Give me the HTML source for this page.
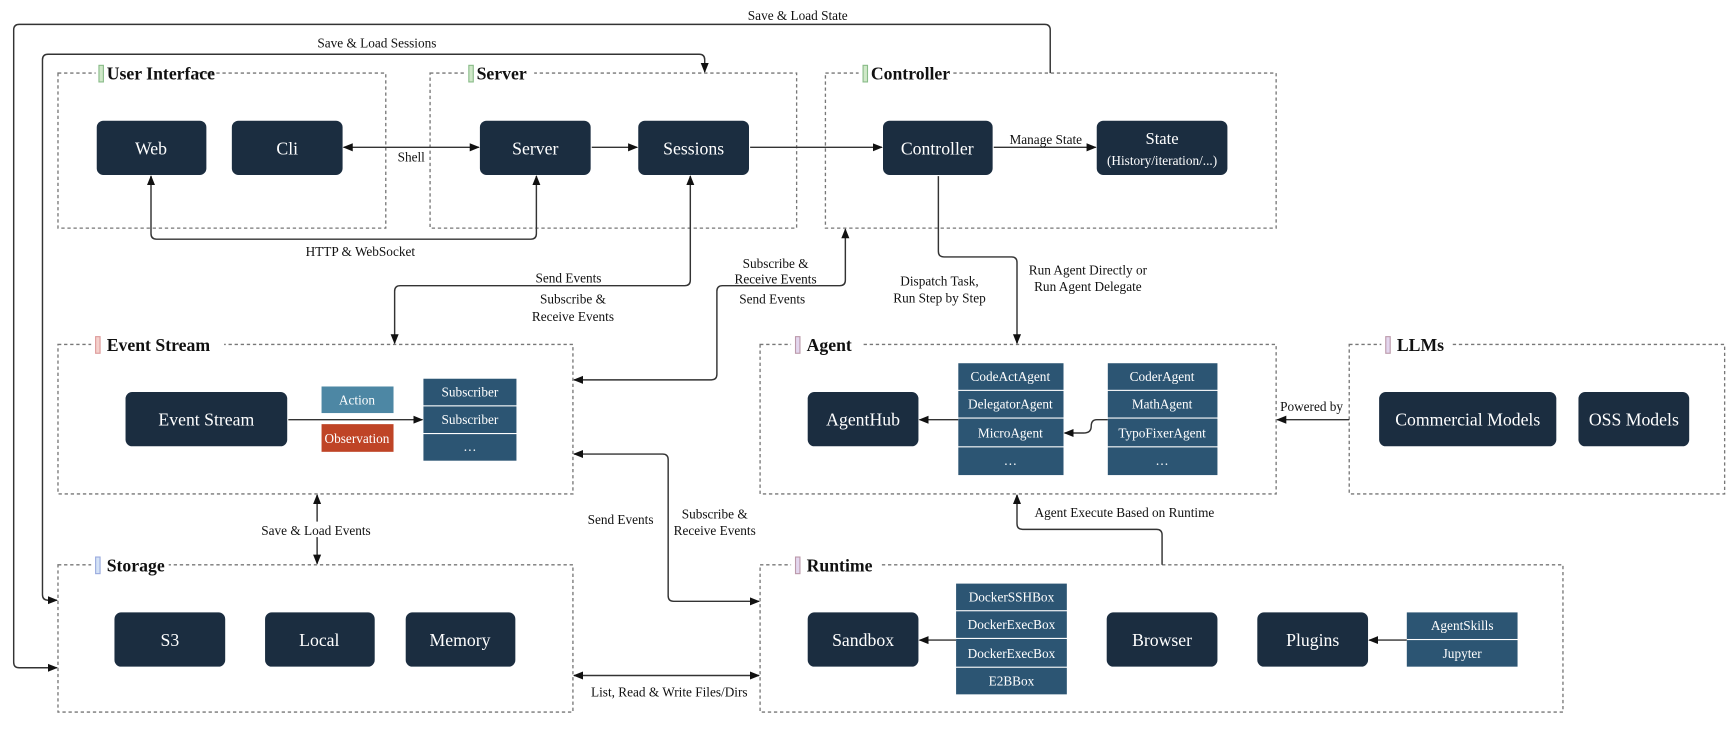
<!DOCTYPE html>
<html><head><meta charset="utf-8"><style>
html,body{margin:0;padding:0;background:#fff;}
svg{display:block;}
text{font-family:"Liberation Serif",serif;}
.g{fill:none;stroke:#777;stroke-width:1.2;stroke-dasharray:3,2.5;}
.n{fill:#1b2d40;}
.nt{fill:#fff;font-size:16px;text-anchor:middle;dominant-baseline:central;}
.lt{fill:#fff;font-size:12px;text-anchor:middle;dominant-baseline:central;}
.l{fill:none;stroke:#333;stroke-width:1.3;}
.lb{fill:#111;font-size:12px;text-anchor:middle;}
.gt{fill:#111;font-size:16px;font-weight:bold;}
.li{fill:#2c5573;}
</style></head><body>
<svg width="1735" height="732" viewBox="0 0 1566 661" xmlns="http://www.w3.org/2000/svg">
<defs><marker id="a" viewBox="0 0 10 10" refX="9" refY="5" markerWidth="7" markerHeight="7" orient="auto-start-reverse"><path d="M0,1 L10,5 L0,9 z" fill="#111"/></marker></defs>
<rect width="1566" height="661" fill="#fff"/>

<!-- groups -->
<rect class="g" x="52" y="66" width="296" height="140"/>
<rect class="g" x="388" y="66" width="331" height="140"/>
<rect class="g" x="745" y="66" width="407" height="140"/>
<rect class="g" x="52" y="311" width="465" height="135"/>
<rect class="g" x="686" y="311" width="466" height="135"/>
<rect class="g" x="1218" y="311" width="339" height="135"/>
<rect class="g" x="52" y="510" width="465" height="133"/>
<rect class="g" x="686" y="510" width="725" height="133"/>

<!-- group titles -->
<g>
<rect x="86" y="58" width="92" height="18" fill="#fff"/><rect x="89" y="59" width="4" height="15" fill="#cfe8c8" stroke="#8b8"/><text class="gt" x="96" y="72">User Interface</text>
<rect x="420" y="58" width="62" height="18" fill="#fff"/><rect x="423" y="59" width="4" height="15" fill="#cfe8c8" stroke="#8b8"/><text class="gt" x="430" y="72">Server</text>
<rect x="775" y="58" width="84" height="18" fill="#fff"/><rect x="779" y="59" width="4" height="15" fill="#cfe8c8" stroke="#8b8"/><text class="gt" x="786" y="72">Controller</text>
<rect x="82" y="303" width="120" height="18" fill="#fff"/><rect x="86" y="304" width="4" height="15" fill="#f4d0cc" stroke="#d99"/><text class="gt" x="96" y="317">Event Stream</text>
<rect x="714" y="303" width="64" height="18" fill="#fff"/><rect x="718" y="304" width="4" height="15" fill="#e3d6ee" stroke="#b9a"/><text class="gt" x="728" y="317">Agent</text>
<rect x="1247" y="303" width="62" height="18" fill="#fff"/><rect x="1251" y="304" width="4" height="15" fill="#e3d6ee" stroke="#b9a"/><text class="gt" x="1261" y="317">LLMs</text>
<rect x="82" y="502" width="70" height="18" fill="#fff"/><rect x="86" y="503" width="4" height="15" fill="#d4e2f6" stroke="#9ad"/><text class="gt" x="96" y="516">Storage</text>
<rect x="714" y="502" width="80" height="18" fill="#fff"/><rect x="718" y="503" width="4" height="15" fill="#e3d6ee" stroke="#b9a"/><text class="gt" x="728" y="516">Runtime</text>
</g>

<!-- connectors -->
<path class="l" d="M948,66 V27 Q948,22 943,22 H17 Q12,22 12,27 V598 Q12,603 17,603 H51" marker-end="url(#a)"/>
<text class="lb" x="720" y="18">Save &amp; Load State</text>
<path class="l" d="M51,542 H43 Q38,542 38,537 V54 Q38,49 43,49 H631 Q636,49 636,54 V65" marker-start="url(#a)" marker-end="url(#a)"/>
<text class="lb" x="340" y="43">Save &amp; Load Sessions</text>
<path class="l" d="M310,133 H432" marker-start="url(#a)" marker-end="url(#a)"/>
<text class="lb" x="371" y="146">Shell</text>
<path class="l" d="M534,133 H575" marker-end="url(#a)"/>
<path class="l" d="M677,133 H796" marker-end="url(#a)"/>
<path class="l" d="M897,133 H989" marker-end="url(#a)"/>
<text class="lb" x="944" y="130">Manage State</text>
<path class="l" d="M136,159 V211 Q136,216 141,216 H479 Q484,216 484,211 V159" marker-start="url(#a)" marker-end="url(#a)"/>
<text class="lb" x="325" y="231">HTTP &amp; WebSocket</text>
<path class="l" d="M623,159 V253 Q623,258 618,258 H361 Q356,258 356,263 V310" marker-start="url(#a)" marker-end="url(#a)"/>
<text class="lb" x="513" y="255">Send Events</text>
<text class="lb" x="517" y="274">Subscribe &amp;</text>
<text class="lb" x="517" y="290">Receive Events</text>
<path class="l" d="M763,207 V253 Q763,258 758,258 H652 Q647,258 647,263 V338 Q647,343 642,343 H518" marker-start="url(#a)" marker-end="url(#a)"/>
<text class="lb" x="700" y="242">Subscribe &amp;</text>
<text class="lb" x="700" y="256">Receive Events</text>
<text class="lb" x="697" y="274">Send Events</text>
<path class="l" d="M518,410 H598 Q603,410 603,415 V538 Q603,543 608,543 H685" marker-start="url(#a)" marker-end="url(#a)"/>
<text class="lb" x="560" y="473">Send Events</text>
<text class="lb" x="645" y="468">Subscribe &amp;</text>
<text class="lb" x="645" y="483">Receive Events</text>
<path class="l" d="M518,610 H685" marker-start="url(#a)" marker-end="url(#a)"/>
<text class="lb" x="604" y="629">List, Read &amp; Write Files/Dirs</text>
<path class="l" d="M286,447 V509" marker-start="url(#a)" marker-end="url(#a)"/>
<rect x="228" y="471" width="116" height="14" fill="#fff"/>
<text class="lb" x="285" y="483">Save &amp; Load Events</text>
<path class="l" d="M847,159 V227 Q847,232 852,232 H913 Q918,232 918,237 V310" marker-end="url(#a)"/>
<text class="lb" x="848" y="258">Dispatch Task,</text>
<text class="lb" x="848" y="273">Run Step by Step</text>
<text class="lb" x="982" y="248">Run Agent Directly or</text>
<text class="lb" x="982" y="263">Run Agent Delegate</text>
<path class="l" d="M1049,510 V483 Q1049,478 1044,478 H923 Q918,478 918,473 V447" marker-end="url(#a)"/>
<text class="lb" x="1015" y="467">Agent Execute Based on Runtime</text>
<path class="l" d="M1218,379 H1153" marker-end="url(#a)"/>
<text class="lb" x="1184" y="371">Powered by</text>
<path class="l" d="M260,379 H381" marker-end="url(#a)"/>
<path class="l" d="M865,379 H830" marker-end="url(#a)"/>
<path class="l" d="M1000,379 H990 Q985,379 985,385 Q985,391 978,391 H961" marker-end="url(#a)"/>
<path class="l" d="M863,578 H830" marker-end="url(#a)"/>
<path class="l" d="M1270,578 H1236" marker-end="url(#a)"/>

<!-- nodes -->
<rect class="n" x="87" y="109" width="99" height="49" rx="6"/><text class="nt" x="136" y="134">Web</text>
<rect class="n" x="209" y="109" width="100" height="49" rx="6"/><text class="nt" x="259" y="134">Cli</text>
<rect class="n" x="433" y="109" width="100" height="49" rx="6"/><text class="nt" x="483" y="134">Server</text>
<rect class="n" x="576" y="109" width="100" height="49" rx="6"/><text class="nt" x="626" y="134">Sessions</text>
<rect class="n" x="797" y="109" width="99" height="49" rx="6"/><text class="nt" x="846" y="134">Controller</text>
<rect class="n" x="990" y="109" width="118" height="49" rx="6"/><text class="nt" x="1049" y="125" style="font-size:15px">State</text><text class="lt" x="1049" y="145">(History/iteration/...)</text>
<rect class="n" x="113" y="354" width="146" height="49" rx="6"/><text class="nt" x="186" y="379">Event Stream</text>
<rect class="n" x="729" y="354" width="100" height="49" rx="6"/><text class="nt" x="779" y="379">AgentHub</text>
<rect class="n" x="1245" y="354" width="160" height="49" rx="6"/><text class="nt" x="1325" y="379">Commercial Models</text>
<rect class="n" x="1425" y="354" width="100" height="49" rx="6"/><text class="nt" x="1475" y="379">OSS Models</text>
<rect class="n" x="103" y="553" width="100" height="49" rx="6"/><text class="nt" x="153" y="578">S3</text>
<rect class="n" x="239" y="553" width="99" height="49" rx="6"/><text class="nt" x="288" y="578">Local</text>
<rect class="n" x="366" y="553" width="99" height="49" rx="6"/><text class="nt" x="415" y="578">Memory</text>
<rect class="n" x="729" y="553" width="100" height="49" rx="6"/><text class="nt" x="779" y="578">Sandbox</text>
<rect class="n" x="999" y="553" width="100" height="49" rx="6"/><text class="nt" x="1049" y="578">Browser</text>
<rect class="n" x="1135" y="553" width="100" height="49" rx="6"/><text class="nt" x="1185" y="578">Plugins</text>

<!-- small boxes -->
<rect x="290" y="349" width="65" height="24" fill="#4d87a4"/><text class="lt" x="322" y="361">Action</text>
<rect x="290" y="383" width="65" height="25" fill="#bf4426"/><text class="lt" x="322" y="396">Observation</text>

<g>
<rect class="li" x="382" y="342" width="84" height="24"/><text class="lt" x="424" y="354">Subscriber</text>
<rect class="li" x="382" y="367" width="84" height="24"/><text class="lt" x="424" y="379">Subscriber</text>
<rect class="li" x="382" y="392" width="84" height="24"/><text class="lt" x="424" y="403">…</text>

<rect class="li" x="865" y="328" width="95" height="24"/><text class="lt" x="912" y="340">CodeActAgent</text>
<rect class="li" x="865" y="353" width="95" height="24"/><text class="lt" x="912" y="365">DelegatorAgent</text>
<rect class="li" x="865" y="378" width="95" height="25"/><text class="lt" x="912" y="391">MicroAgent</text>
<rect class="li" x="865" y="404" width="95" height="25"/><text class="lt" x="912" y="416">…</text>

<rect class="li" x="1000" y="328" width="99" height="24"/><text class="lt" x="1049" y="340">CoderAgent</text>
<rect class="li" x="1000" y="353" width="99" height="24"/><text class="lt" x="1049" y="365">MathAgent</text>
<rect class="li" x="1000" y="378" width="99" height="25"/><text class="lt" x="1049" y="391">TypoFixerAgent</text>
<rect class="li" x="1000" y="404" width="99" height="25"/><text class="lt" x="1049" y="416">…</text>

<rect class="li" x="863" y="527" width="100" height="24"/><text class="lt" x="913" y="539">DockerSSHBox</text>
<rect class="li" x="863" y="552" width="100" height="24"/><text class="lt" x="913" y="564">DockerExecBox</text>
<rect class="li" x="863" y="577" width="100" height="25"/><text class="lt" x="913" y="590">DockerExecBox</text>
<rect class="li" x="863" y="603" width="100" height="24"/><text class="lt" x="913" y="615">E2BBox</text>

<rect class="li" x="1270" y="553" width="100" height="24"/><text class="lt" x="1320" y="565">AgentSkills</text>
<rect class="li" x="1270" y="578" width="100" height="24"/><text class="lt" x="1320" y="590">Jupyter</text>
</g>
</svg>
</body></html>
